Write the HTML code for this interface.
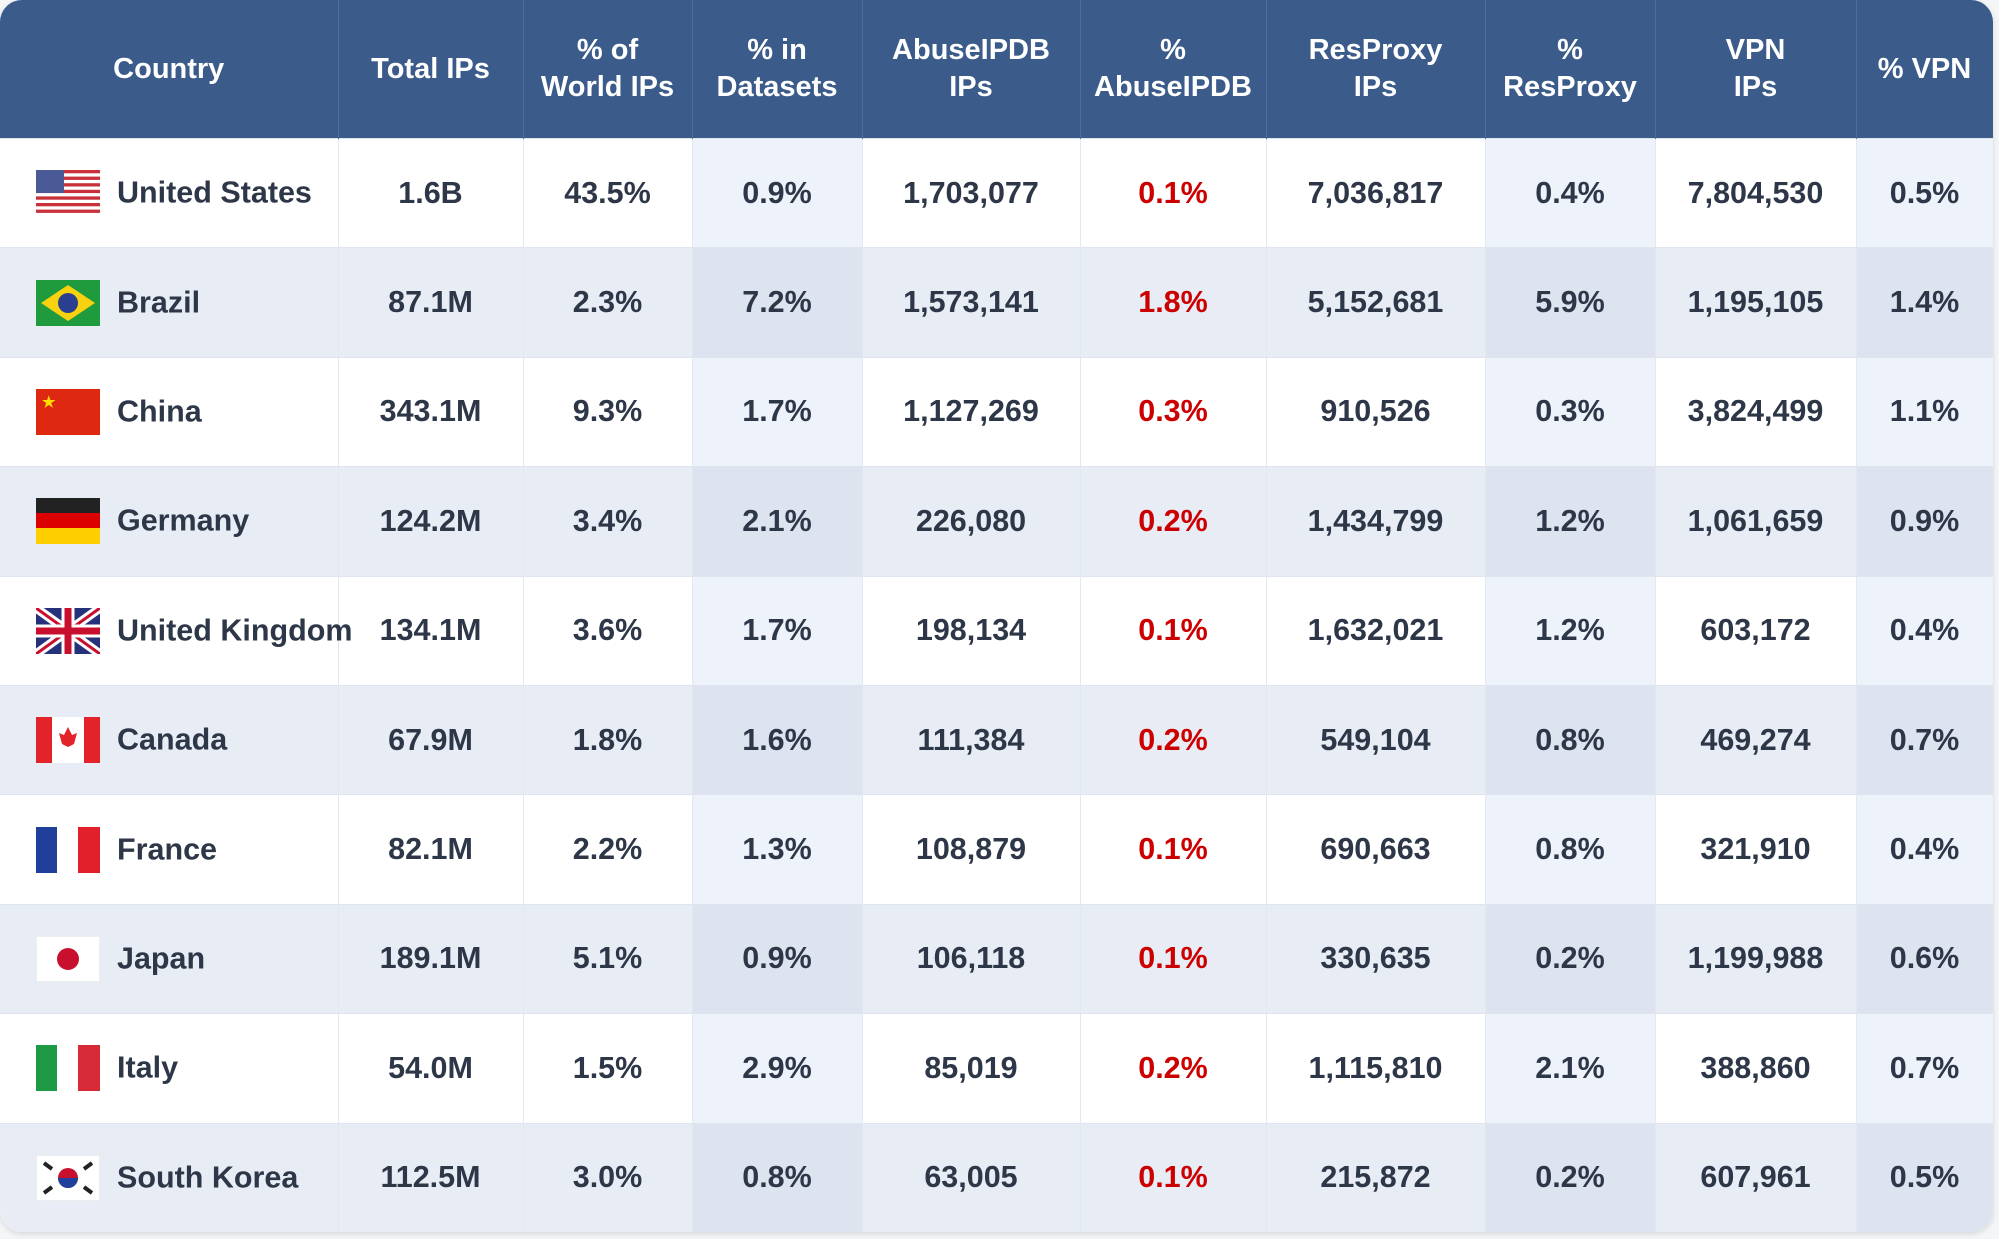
<!DOCTYPE html>
<html><head><meta charset="utf-8"><style>
body{margin:0;width:1999px;height:1239px;background:#f4f5f7;font-family:"Liberation Sans",sans-serif;overflow:hidden}
#wrap{position:absolute;left:0;top:0;width:1993px;height:1232px;border-radius:22px;overflow:hidden;background:#fff;box-shadow:0 2px 6px rgba(0,0,0,.12)}
table{border-collapse:collapse;width:1993px;table-layout:fixed}
th{background:#3b5b8a;color:#fff;font-weight:bold;font-size:29px;line-height:37px;height:138px;padding:0;border-right:1px solid #4f6d99;text-align:center}
td{height:109.4px;box-sizing:border-box;padding:0;font-size:30.5px;font-weight:bold;color:#2d3748;text-align:center;border-right:1px solid #e2e8f0;border-top:1px solid #dfe5ee}
tr.odd td{background:#fff}tr.even td{background:#e8edf5}
tr.odd td.sh{background:#eef2fa}tr.even td.sh{background:#dde4ef}
td.red{color:#cc0000}
td.cn{text-align:left;white-space:nowrap}
td.cn svg{vertical-align:middle;margin:0 17px 0 36px}
td.cn span{vertical-align:middle}
</style></head><body>
<div id="wrap">
<table id="t">
<colgroup><col style="width:338px"><col style="width:185px"><col style="width:169px"><col style="width:170px"><col style="width:218px"><col style="width:186px"><col style="width:219px"><col style="width:170px"><col style="width:201px"><col style="width:137px"></colgroup>
<thead><tr>
<th>Country</th>
<th>Total IPs</th>
<th>% of<br>World IPs</th>
<th>% in<br>Datasets</th>
<th>AbuseIPDB<br>IPs</th>
<th>%<br>AbuseIPDB</th>
<th>ResProxy<br>IPs</th>
<th>%<br>ResProxy</th>
<th>VPN<br>IPs</th>
<th>% VPN</th>
</tr></thead><tbody id="tb"></tbody></table></div>
<script>
const countries=["United States","Brazil","China","Germany","United Kingdom","Canada","France","Japan","Italy","South Korea"];
const flagCodes=["us","br","cn","de","gb","ca","fr","jp","it","kr"];
const totalIps=["1.6B","87.1M","343.1M","124.2M","134.1M","67.9M","82.1M","189.1M","54.0M","112.5M"];
const worldPct=["43.5%","2.3%","9.3%","3.4%","3.6%","1.8%","2.2%","5.1%","1.5%","3.0%"];
const datasetPct=["0.9%","7.2%","1.7%","2.1%","1.7%","1.6%","1.3%","0.9%","2.9%","0.8%"];
const abuseIps=["1,703,077","1,573,141","1,127,269","226,080","198,134","111,384","108,879","106,118","85,019","63,005"];
const abusePct=["0.1%","1.8%","0.3%","0.2%","0.1%","0.2%","0.1%","0.1%","0.2%","0.1%"];
const proxyIps=["7,036,817","5,152,681","910,526","1,434,799","1,632,021","549,104","690,663","330,635","1,115,810","215,872"];
const proxyPct=["0.4%","5.9%","0.3%","1.2%","1.2%","0.8%","0.8%","0.2%","2.1%","0.2%"];
const vpnIps=["7,804,530","1,195,105","3,824,499","1,061,659","603,172","469,274","321,910","1,199,988","388,860","607,961"];
const vpnPct=["0.5%","1.4%","1.1%","0.9%","0.4%","0.7%","0.4%","0.6%","0.7%","0.5%"];
function flag(c){
 let b='';
 if(c==='us'){for(let i=0;i<7;i++)b+=`<rect y="${i*6.6}" width="64" height="3.3" fill="#c8303a"/>`;b='<rect width="64" height="46" fill="#fff"/>'+b+'<rect width="28" height="23" fill="#4a5a96"/>';}
 else if(c==='br')b='<rect width="64" height="46" fill="#1f9a3c"/><polygon points="32,5 59,23 32,41 5,23" fill="#f8d20f"/><circle cx="32" cy="23" r="10" fill="#2a3f8f"/>';
 else if(c==='cn')b='<rect width="64" height="46" fill="#de2910"/><text x="6" y="18" font-size="15" fill="#ffde00">★</text>';
 else if(c==='de')b='<rect width="64" height="16" fill="#222"/><rect y="15" width="64" height="16" fill="#dd0000"/><rect y="30" width="64" height="16" fill="#ffce00"/>';
 else if(c==='gb')b='<rect width="64" height="46" fill="#25317a"/><path d="M0,0L64,46M64,0L0,46" stroke="#fff" stroke-width="9"/><path d="M0,0L64,46M64,0L0,46" stroke="#c8102e" stroke-width="3"/><path d="M32,0V46M0,23H64" stroke="#fff" stroke-width="13"/><path d="M32,0V46M0,23H64" stroke="#c8102e" stroke-width="7"/>';
 else if(c==='ca')b='<rect width="64" height="46" fill="#fff"/><rect width="16" height="46" fill="#e2232a"/><rect x="48" width="16" height="46" fill="#e2232a"/><polygon points="32,10 36,18 41,16 38,27 32,30 26,27 23,16 28,18" fill="#e2232a"/>';
 else if(c==='fr')b='<rect width="22" height="46" fill="#1f3f9a"/><rect x="21" width="22" height="46" fill="#fff"/><rect x="42" width="22" height="46" fill="#e1202c"/>';
 else if(c==='jp')b='<rect width="64" height="46" fill="#fff" stroke="#ddd"/><circle cx="32" cy="23" r="11" fill="#c8102e"/>';
 else if(c==='it')b='<rect width="22" height="46" fill="#1e9a46"/><rect x="21" width="22" height="46" fill="#fff"/><rect x="42" width="22" height="46" fill="#d62a36"/>';
 else if(c==='kr')b='<rect width="64" height="46" fill="#fff" stroke="#ddd"/><circle cx="32" cy="23" r="10" fill="#c8102e"/><path d="M22,23a10,10 0 0 0 20,0z" fill="#1f3f9a"/><path d="M8,8l8,6M48,32l8,6M48,14l8,-6M8,38l8,-6" stroke="#222" stroke-width="4"/>';
 return `<svg width="64" height="46" viewBox="0 0 64 46">${b}</svg>`;
}
const tb=document.getElementById('tb');
const cols=[[totalIps,'total-ips',''],[worldPct,'world-pct',''],[datasetPct,'datasets-pct','sh'],[abuseIps,'abuseipdb-ips',''],[abusePct,'abuseipdb-pct','red'],[proxyIps,'resproxy-ips',''],[proxyPct,'resproxy-pct','sh'],[vpnIps,'vpn-ips',''],[vpnPct,'vpn-pct','sh']];
countries.forEach((c,i)=>{
 const tr=document.createElement('tr');tr.className=i%2?'even':'odd';
 
 
 const td=document.createElement('td');td.className='cn';
 
 
 td.innerHTML=flag(flagCodes[i])+'<span>'+c+'</span>';
 tr.appendChild(td);
 cols.forEach(([arr,n,cls])=>{
  const d=document.createElement('td');if(cls)d.className=cls;d.textContent=arr[i];
  
  
  tr.appendChild(d);
 });
 tb.appendChild(tr);
});
</script></body></html>
